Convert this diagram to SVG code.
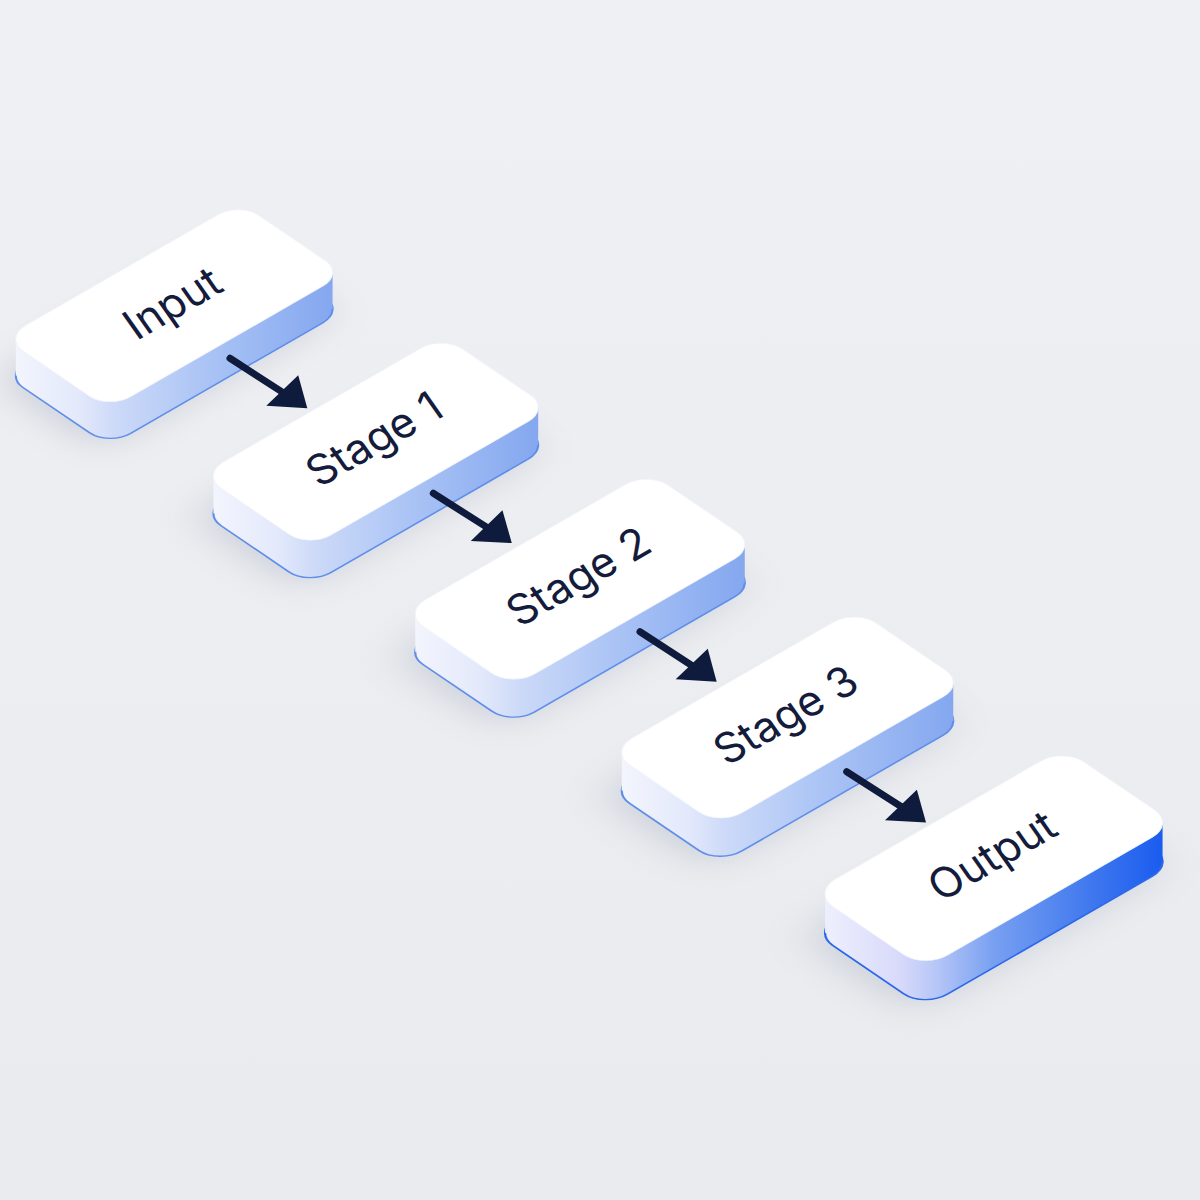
<svg xmlns="http://www.w3.org/2000/svg" width="1200" height="1200" viewBox="0 0 1200 1200">
  <defs>
    <linearGradient id="bg" x1="0" y1="0" x2="0" y2="1">
      <stop offset="0" stop-color="#eff0f3"/>
      <stop offset="1" stop-color="#e9ebee"/>
    </linearGradient>
    <linearGradient id="side" gradientUnits="userSpaceOnUse" x1="-89.97" y1="-80.13" x2="89.97" y2="80.13">
      <stop offset="0" stop-color="#f3f5fd"/>
      <stop offset="0.2" stop-color="#e3e9fb"/>
      <stop offset="0.31" stop-color="#cddaf8"/>
      <stop offset="0.6" stop-color="#abc4f5"/>
      <stop offset="1" stop-color="#84a7ef"/>
    </linearGradient>
    <linearGradient id="sideOut" gradientUnits="userSpaceOnUse" x1="-89.97" y1="-80.13" x2="89.97" y2="80.13">
      <stop offset="0" stop-color="#eeeffd"/>
      <stop offset="0.22" stop-color="#d8dafa"/>
      <stop offset="0.32" stop-color="#b9c8f7"/>
      <stop offset="0.5" stop-color="#78a0f1"/>
      <stop offset="0.8" stop-color="#3d76ee"/>
      <stop offset="1" stop-color="#1a5cef"/>
    </linearGradient>
    <filter id="soft" x="-60%" y="-60%" width="220%" height="220%">
      <feGaussianBlur stdDeviation="18"/>
    </filter>
    <marker id="head" viewBox="-40 -26 46 52" refX="-20" refY="0" markerWidth="46" markerHeight="52" markerUnits="userSpaceOnUse" orient="auto" overflow="visible">
      <polygon points="0,0 -35.75,20.23 -25.52,-22.78" fill="#0f1b3c"/>
    </marker>
  </defs>
  <style>
    .shadow { fill: #7c87a2; opacity: 0.3; filter: url(#soft); }
    .bottom { fill: url(#side); stroke: #5f8eea; stroke-width: 1.6; }
    .hull { fill: url(#side); }
    .out .bottom { fill: url(#sideOut); stroke: #2d68ec; }
    .out .hull { fill: url(#sideOut); }
    .top { fill: #ffffff; stroke: #f2f4fa; stroke-width: 0.8; }
    .label { font-family: Inter, "Noto Sans", "Liberation Sans", sans-serif; font-size: 43px; font-weight: 400; fill: #141b3b; text-anchor: middle; }
    .arrow { stroke: #0f1b3c; stroke-width: 7; stroke-linecap: round; fill: none; marker-end: url(#head); }
  </style>

  <rect x="0" y="0" width="1200" height="1200" fill="url(#bg)"/>

  <g id="node-input" transform="translate(174.2,305.8)">
    <g transform="matrix(0.9818,-0.5651,0.8745,0.594,0,0)">
      <rect class="shadow" x="-158" y="-28" width="240" height="120" rx="22"/>
      <rect class="bottom" x="-149.73" y="-26.62" width="240" height="120" rx="22"/>
      <polygon class="hull" points="-114.43,-52.63 114.43,52.63 84.70,86.01 -144.16,-19.25"/>
      <rect class="top" x="-120" y="-60" width="240" height="120" rx="22"/>
    </g>
    <text class="label" transform="rotate(-30) skewX(5)" y="12">Input</text>
  </g>

  <g id="node-stage1" transform="translate(375.8,441.7)">
    <g transform="matrix(1.0066,-0.5794,0.8965,0.609,0,0)">
      <rect class="shadow" x="-158" y="-28" width="240" height="120" rx="22"/>
      <rect class="bottom" x="-149.73" y="-26.62" width="240" height="120" rx="22"/>
      <polygon class="hull" points="-114.43,-52.63 114.43,52.63 84.70,86.01 -144.16,-19.25"/>
      <rect class="top" x="-120" y="-60" width="240" height="120" rx="22"/>
    </g>
    <text class="label" transform="rotate(-30) skewX(5)" y="12">Stage 1</text>
  </g>

  <g id="node-stage2" transform="translate(580,579.2)">
    <g transform="matrix(1.0215,-0.5879,0.9098,0.618,0,0)">
      <rect class="shadow" x="-158" y="-28" width="240" height="120" rx="22"/>
      <rect class="bottom" x="-149.73" y="-26.62" width="240" height="120" rx="22"/>
      <polygon class="hull" points="-114.43,-52.63 114.43,52.63 84.70,86.01 -144.16,-19.25"/>
      <rect class="top" x="-120" y="-60" width="240" height="120" rx="22"/>
    </g>
    <text class="label" transform="rotate(-30) skewX(5)" y="12">Stage 2</text>
  </g>

  <g id="node-stage3" transform="translate(787.5,717.5)">
    <g transform="matrix(1.0274,-0.5913,0.9151,0.6216,0,0)">
      <rect class="shadow" x="-158" y="-28" width="240" height="120" rx="22"/>
      <rect class="bottom" x="-149.73" y="-26.62" width="240" height="120" rx="22"/>
      <polygon class="hull" points="-114.43,-52.63 114.43,52.63 84.70,86.01 -144.16,-19.25"/>
      <rect class="top" x="-120" y="-60" width="240" height="120" rx="22"/>
    </g>
    <text class="label" transform="rotate(-30) skewX(5)" y="12">Stage 3</text>
  </g>

  <g id="node-output" class="out" transform="translate(993.8,858.3)">
    <g transform="matrix(1.0462,-0.6022,0.9319,0.633,0,0)">
      <rect class="shadow" x="-158" y="-28" width="240" height="120" rx="22"/>
      <rect class="bottom" x="-149.73" y="-26.62" width="240" height="120" rx="22"/>
      <polygon class="hull" points="-114.43,-52.63 114.43,52.63 84.70,86.01 -144.16,-19.25"/>
      <rect class="top" x="-120" y="-60" width="240" height="120" rx="22"/>
    </g>
    <text class="label" transform="rotate(-30) skewX(5)" y="12">Output</text>
  </g>

  <g id="connectors">
    <line class="arrow" x1="230" y1="358.3" x2="290.5" y2="397.4"/>
    <line class="arrow" x1="433.3" y1="493.3" x2="494.9" y2="532.4"/>
    <line class="arrow" x1="640" y1="631.7" x2="699.9" y2="670.8"/>
    <line class="arrow" x1="846.7" y1="771.7" x2="909.2" y2="811.8"/>
  </g>
</svg>
